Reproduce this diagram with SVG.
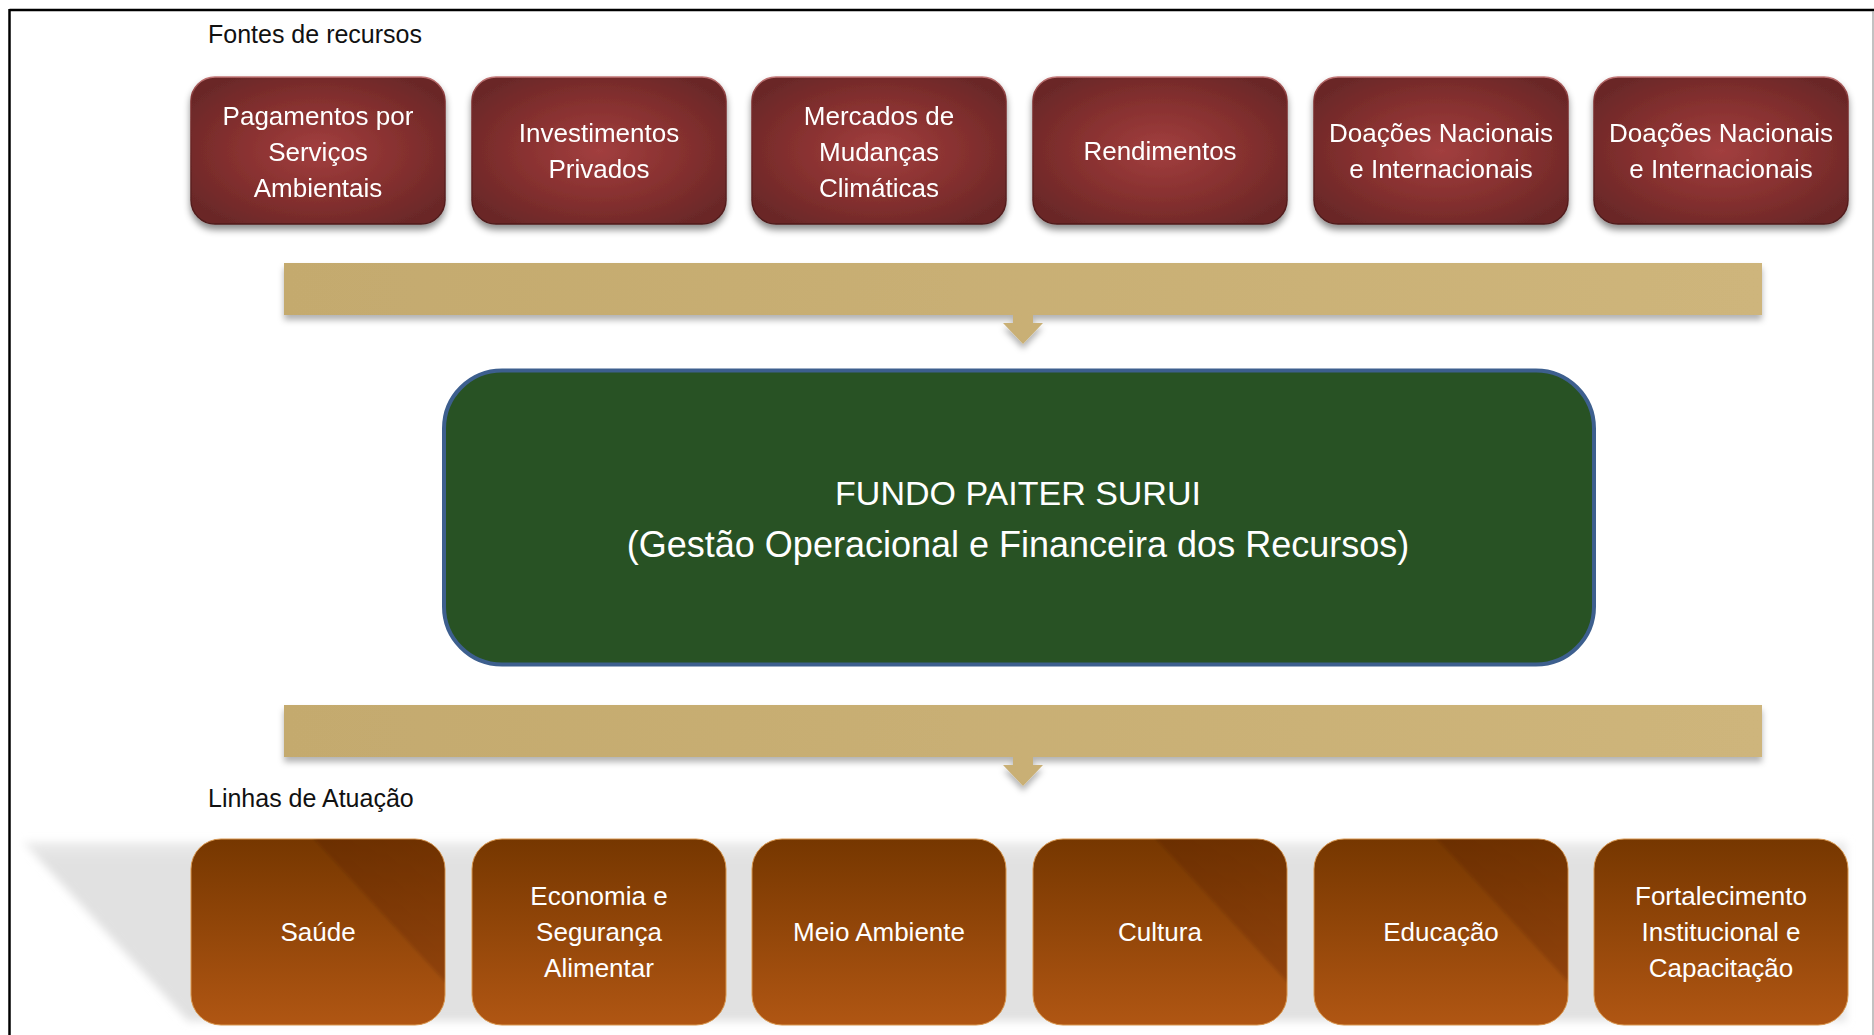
<svg xmlns="http://www.w3.org/2000/svg" width="1874" height="1035" viewBox="0 0 1874 1035">
<style>
.lbl{font-family:"Liberation Sans",Arial,sans-serif;font-size:25px;fill:#111}
.bt{font-family:"Liberation Sans",Arial,sans-serif;font-size:26px;fill:#fff;text-anchor:middle}
.ct{font-family:"Liberation Sans",Arial,sans-serif;fill:#fff;text-anchor:middle}
.src{fill:url(#redG);stroke:url(#redS);stroke-width:1.5}
.act{fill:url(#orG);stroke:#d8964e;stroke-width:1}
.ov{fill:url(#ovG)}
.band{fill:url(#bandG)}
</style>
<defs>
<radialGradient id="redG" cx="0.5" cy="0.5" r="0.6">
<stop offset="0" stop-color="#a23f3f"/>
<stop offset="0.55" stop-color="#86302f"/>
<stop offset="1" stop-color="#6a2828"/>
</radialGradient>
<linearGradient id="redS" x1="0" y1="0" x2="0" y2="1">
<stop offset="0" stop-color="#c27676"/>
<stop offset="0.15" stop-color="#7a2d2d"/>
<stop offset="1" stop-color="#4e1a1a"/>
</linearGradient>
<linearGradient id="orG" x1="0" y1="0" x2="0" y2="1">
<stop offset="0" stop-color="#763700"/>
<stop offset="1" stop-color="#b05613"/>
</linearGradient>
<linearGradient id="ovG" gradientUnits="userSpaceOnUse" x1="254" y1="0" x2="180" y2="80">
<stop offset="0" stop-color="#2a1000" stop-opacity="0.10"/>
<stop offset="1" stop-color="#2a1000" stop-opacity="0.16"/>
</linearGradient>
<linearGradient id="bandG" x1="0" y1="0" x2="1" y2="0">
<stop offset="0" stop-color="#c4aa6e"/>
<stop offset="1" stop-color="#ceb57b"/>
</linearGradient>
<linearGradient id="shG" x1="0" y1="0" x2="0" y2="1">
<stop offset="0" stop-color="#ececec"/>
<stop offset="0.1" stop-color="#e1e1e1"/>
<stop offset="1" stop-color="#e1e1e1"/>
</linearGradient>
<filter id="ds" x="-10%" y="-20%" width="120%" height="150%">
<feDropShadow dx="0" dy="5" stdDeviation="3.5" flood-color="#000" flood-opacity="0.45"/>
</filter>
<filter id="ds2" x="-10%" y="-30%" width="120%" height="180%">
<feDropShadow dx="0" dy="5" stdDeviation="3" flood-color="#000" flood-opacity="0.3"/>
</filter>
<filter id="blur" x="-5%" y="-10%" width="110%" height="120%">
<feGaussianBlur stdDeviation="4"/>
</filter>
<filter id="soft" x="-20%" y="-20%" width="140%" height="140%">
<feGaussianBlur stdDeviation="1.5"/>
</filter>
<clipPath id="boxClip">
<rect x="0" y="0" width="254" height="186" rx="30"/>
</clipPath>
</defs>

<rect x="0" y="0" width="1874" height="1035" fill="#fff"/>
<g id="frame">
<line x1="9.5" y1="10" x2="1874" y2="10" stroke="#000" stroke-width="2.5"/>
<line x1="9.5" y1="9" x2="9.5" y2="1035" stroke="#000" stroke-width="2.5"/>
<line x1="1873" y1="11" x2="1873" y2="1035" stroke="#999" stroke-width="1.2"/>
</g>

<text id="lbl-fontes" class="lbl" x="208" y="43">Fontes de recursos</text>
<text id="lbl-linhas" class="lbl" x="208" y="807">Linhas de Atuação</text>

<g id="sources">
<g id="src1" filter="url(#ds)"><rect class="src" x="191" y="77" width="254" height="147" rx="24"/>
<text class="bt" x="318" y="124.5">Pagamentos por</text><text class="bt" x="318" y="160.5">Serviços</text><text class="bt" x="318" y="196.5">Ambientais</text></g>
<g id="src2" filter="url(#ds)"><rect class="src" x="472" y="77" width="254" height="147" rx="24"/>
<text class="bt" x="599" y="142">Investimentos</text><text class="bt" x="599" y="178">Privados</text></g>
<g id="src3" filter="url(#ds)"><rect class="src" x="752" y="77" width="254" height="147" rx="24"/>
<text class="bt" x="879" y="124.5">Mercados de</text><text class="bt" x="879" y="160.5">Mudanças</text><text class="bt" x="879" y="196.5">Climáticas</text></g>
<g id="src4" filter="url(#ds)"><rect class="src" x="1033" y="77" width="254" height="147" rx="24"/>
<text class="bt" x="1160" y="160">Rendimentos</text></g>
<g id="src5" filter="url(#ds)"><rect class="src" x="1314" y="77" width="254" height="147" rx="24"/>
<text class="bt" x="1441" y="142">Doações Nacionais</text><text class="bt" x="1441" y="178">e Internacionais</text></g>
<g id="src6" filter="url(#ds)"><rect class="src" x="1594" y="77" width="254" height="147" rx="24"/>
<text class="bt" x="1721" y="142">Doações Nacionais</text><text class="bt" x="1721" y="178">e Internacionais</text></g>
</g>

<g id="connectors">
<g id="arrow-top" filter="url(#ds2)">
<path class="band" d="M284,263 H1762 V315 H1033 V323 H1043 L1023,344 L1003,323 H1013 V315 H284 Z"/>
</g>
<g id="arrow-bottom" filter="url(#ds2)">
<path class="band" d="M284,705 H1762 V757 H1033 V765 H1043 L1023,786 L1003,765 H1013 V757 H284 Z"/>
</g>
</g>

<g id="fundo">
<rect x="444" y="370.5" width="1150" height="294" rx="58" fill="#285224" stroke="#3d5f8e" stroke-width="4"/>
<text class="ct" x="1018" y="505" font-size="34">FUNDO PAITER SURUI</text>
<text class="ct" x="1018" y="557" font-size="36">(Gestão Operacional e Financeira dos Recursos)</text>
</g>

<g id="shadow-linhas">
<path d="M23,842 H1846 V1021 H188 Z" fill="url(#shG)" filter="url(#blur)"/>
</g>

<g id="acts">
<g id="act1" transform="translate(191,839)"><rect class="act" x="0" y="0" width="254" height="186" rx="30"/>
<g clip-path="url(#boxClip)"><path class="ov" filter="url(#soft)" d="M114,-10 H270 V160 Z"/></g>
<text class="bt" x="127" y="102">Saúde</text></g>
<g id="act2" transform="translate(472,839)"><rect class="act" x="0" y="0" width="254" height="186" rx="30"/>
<text class="bt" x="127" y="66">Economia e</text><text class="bt" x="127" y="102">Segurança</text><text class="bt" x="127" y="138">Alimentar</text></g>
<g id="act3" transform="translate(752,839)"><rect class="act" x="0" y="0" width="254" height="186" rx="30"/>
<text class="bt" x="127" y="102">Meio Ambiente</text></g>
<g id="act4" transform="translate(1033,839)"><rect class="act" x="0" y="0" width="254" height="186" rx="30"/>
<g clip-path="url(#boxClip)"><path class="ov" filter="url(#soft)" d="M114,-10 H270 V160 Z"/></g>
<text class="bt" x="127" y="102">Cultura</text></g>
<g id="act5" transform="translate(1314,839)"><rect class="act" x="0" y="0" width="254" height="186" rx="30"/>
<g clip-path="url(#boxClip)"><path class="ov" filter="url(#soft)" d="M114,-10 H270 V160 Z"/></g>
<text class="bt" x="127" y="102">Educação</text></g>
<g id="act6" transform="translate(1594,839)"><rect class="act" x="0" y="0" width="254" height="186" rx="30"/>
<text class="bt" x="127" y="66">Fortalecimento</text><text class="bt" x="127" y="102">Institucional e</text><text class="bt" x="127" y="138">Capacitação</text></g>
</g>
</svg>
